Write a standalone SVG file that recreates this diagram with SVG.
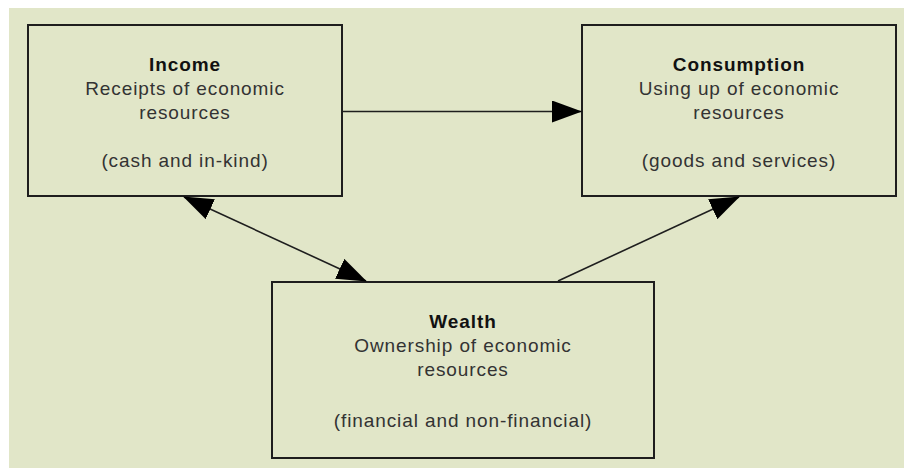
<svg xmlns="http://www.w3.org/2000/svg" width="904" height="472" viewBox="0 0 904 472">
<defs>
<style>
.box{fill:#e1e6c8;stroke:#1e1e1e;stroke-width:2}
.t{font-family:"Liberation Sans",Arial,sans-serif;font-size:19px;letter-spacing:0.9px;text-anchor:middle;fill:#333}
.b{font-weight:bold;fill:#111}
.c{stroke:#1e1e1e;stroke-width:1.6;fill:none}
</style>
<marker id="ah" markerUnits="userSpaceOnUse" viewBox="0 0 30 22" markerWidth="30" markerHeight="22" refX="29" refY="11" orient="auto-start-reverse">
<path d="M0,0 L30,11 L0,22 z" fill="#000"/>
</marker>
</defs>
<rect x="0" y="0" width="904" height="472" fill="#fff"/>
<rect x="9" y="8" width="895" height="460" fill="#e1e6c8"/>
<g id="income">
<rect class="box" x="28" y="25" width="314" height="171"/>
<text class="t b" x="185" y="71">Income</text>
<text class="t" x="185" y="95">Receipts of economic</text>
<text class="t" x="185" y="119">resources</text>
<text class="t" x="185" y="167">(cash and in-kind)</text>
</g>
<g id="consumption">
<rect class="box" x="582" y="25" width="314" height="171"/>
<text class="t b" x="739" y="71">Consumption</text>
<text class="t" x="739" y="95">Using up of economic</text>
<text class="t" x="739" y="119">resources</text>
<text class="t" x="739" y="167">(goods and services)</text>
</g>
<g id="wealth">
<rect class="box" x="272" y="282" width="382" height="176"/>
<text class="t b" x="463" y="328">Wealth</text>
<text class="t" x="463" y="352">Ownership of economic</text>
<text class="t" x="463" y="376">resources</text>
<text class="t" x="463" y="427">(financial and non-financial)</text>
</g>
<g id="connectors">
<line class="c" x1="342" y1="111.5" x2="581" y2="111.5" marker-end="url(#ah)"/>
<line class="c" x1="184" y1="197" x2="366" y2="281" marker-start="url(#ah)" marker-end="url(#ah)"/>
<line class="c" x1="558" y1="281" x2="739" y2="197" marker-end="url(#ah)"/>
</g>
</svg>
